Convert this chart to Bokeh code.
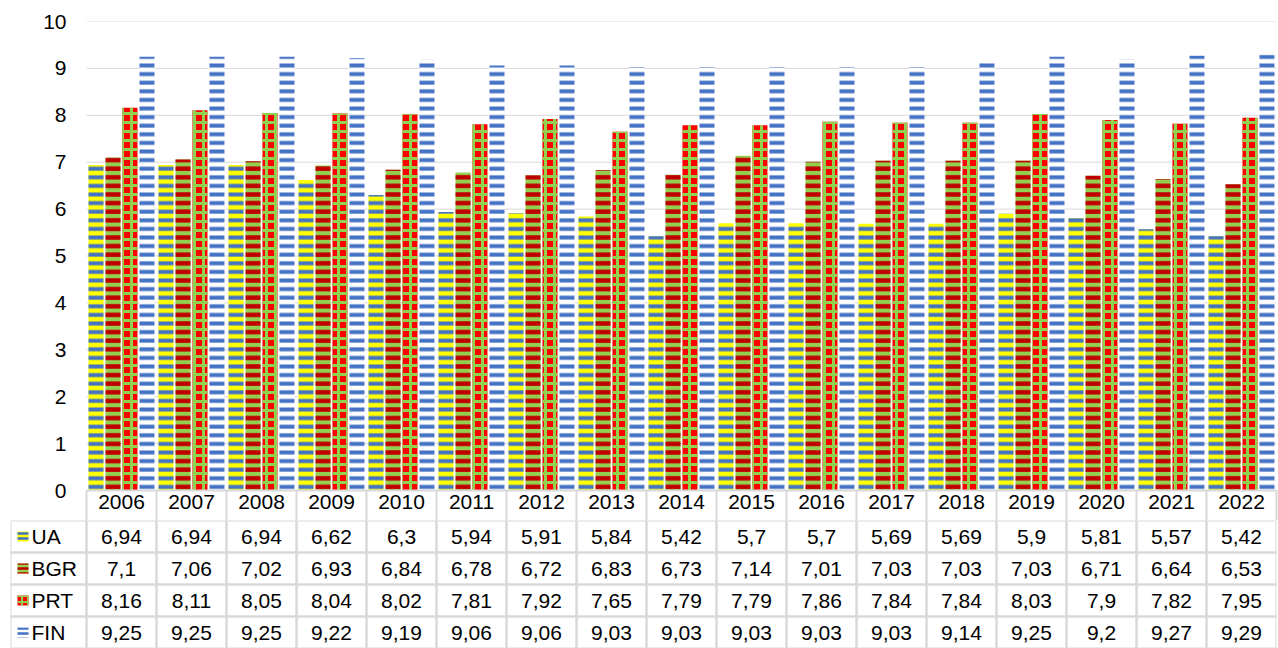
from bokeh.plotting import figure
from bokeh.layouts import column
from bokeh.models import Range1d, FixedTicker, ColumnDataSource, CustomJSTickFormatter
from bokeh.transform import dodge
from bokeh.embed import file_html
from bokeh.resources import INLINE
from bokeh.core.properties import value

# ---------------- data ----------------
years = [str(y) for y in range(2006, 2023)]
series_names = ["UA", "BGR", "PRT", "FIN"]
ua = [6.94, 6.94, 6.94, 6.62, 6.3, 5.94, 5.91, 5.84, 5.42, 5.7, 5.7, 5.69, 5.69, 5.9, 5.81, 5.57, 5.42]
bgr = [7.1, 7.06, 7.02, 6.93, 6.84, 6.78, 6.72, 6.83, 6.73, 7.14, 7.01, 7.03, 7.03, 7.03, 6.71, 6.64, 6.53]
prt = [8.16, 8.11, 8.05, 8.04, 8.02, 7.81, 7.92, 7.65, 7.79, 7.79, 7.86, 7.84, 7.84, 8.03, 7.9, 7.82, 7.95]
fin = [9.25, 9.25, 9.25, 9.22, 9.19, 9.06, 9.06, 9.03, 9.03, 9.03, 9.03, 9.03, 9.14, 9.25, 9.2, 9.27, 9.29]
y_ticks = list(range(0, 11))
series_values = {"UA": ua, "BGR": bgr, "PRT": prt, "FIN": fin}

# ---------------- styles ----------------
FONT = "Liberation Sans"
FS = "21px"
GRID = "#d9d9d9"
CW = 70            # px per year column
N = len(years)
LEG_W = 76         # px width of the legend column of the table
B_LEFT = 10
B_RIGHT = 2
ROW_H = 32
HEAD_H = 30
X0 = -LEG_W / CW
styles = {
    "UA": dict(fill_color="#ffff00", hatch_pattern="horizontal_line", hatch_color="#4472c4", hatch_scale=8.6, hatch_weight=4),
    "BGR": dict(fill_color="#92d050", hatch_pattern="horizontal_line", hatch_color="#c00000", hatch_scale=8.6, hatch_weight=4.5),
    "PRT": dict(fill_color="#ff0000", hatch_pattern="cross", hatch_color="#92d050", hatch_scale=9, hatch_weight=3),
    "FIN": dict(fill_color="#ffffff", hatch_pattern="horizontal_line", hatch_color="#4472c4", hatch_scale=8.6, hatch_weight=4),
}
key_styles = {
    "UA": dict(styles["UA"], hatch_scale=5, hatch_weight=2.5),
    "BGR": dict(styles["BGR"], hatch_scale=5, hatch_weight=2.5),
    "PRT": dict(styles["PRT"], hatch_scale=6, hatch_weight=2),
    "FIN": dict(styles["FIN"], hatch_scale=5, hatch_weight=2.5),
}
offsets = [-0.364, -0.121, 0.121, 0.364]
BAR_W = 0.214

# ---------------- chart ----------------
p = figure(frame_width=LEG_W + CW * N, frame_height=469,
           x_range=Range1d(X0, N), y_range=Range1d(0, 10),
           output_backend="svg", toolbar_location=None,
           min_border_left=B_LEFT, min_border_right=B_RIGHT,
           min_border_top=21, min_border_bottom=HEAD_H)
p.outline_line_color = None
p.background_fill_color = "white"

# horizontal gridlines only over the plotting columns
p.ygrid.visible = False
p.xgrid.visible = False
p.segment(x0=[0] * len(y_ticks), x1=[N] * len(y_ticks), y0=y_ticks, y1=y_ticks,
          line_color=GRID, line_width=1)

centers = [i + 0.5 for i in range(N)]
src = ColumnDataSource(dict(x=centers, **{s: series_values[s] for s in series_names}))
for s, off in zip(series_names, offsets):
    p.vbar(x=dodge("x", off), top=s, width=BAR_W, bottom=0, source=src,
           line_color=None, **styles[s])

# y axis (labels pulled into the blank area above the legend column)
p.yaxis.ticker = FixedTicker(ticks=y_ticks)
p.yaxis.axis_line_color = None
p.yaxis.major_tick_out = 0
p.yaxis.major_tick_in = 0
p.yaxis.minor_tick_out = 0
p.yaxis.minor_tick_in = 0
p.yaxis.major_label_standoff = -56
p.yaxis.major_label_text_font = FONT
p.yaxis.major_label_text_font_size = FS
p.yaxis.major_label_text_color = "black"

# x axis = header row of the data table
p.xaxis.bounds = (0, N)
p.xaxis.ticker = FixedTicker(ticks=centers, minor_ticks=list(range(N + 1)))
p.xaxis.formatter = CustomJSTickFormatter(args=dict(labels=years),
                                          code="return labels[Math.floor(tick)];")
p.xaxis.axis_line_color = GRID
p.xaxis.axis_line_width = 2
p.xaxis.major_tick_out = 0
p.xaxis.major_tick_in = 0
p.xaxis.minor_tick_out = HEAD_H
p.xaxis.minor_tick_in = 0
p.xaxis.minor_tick_line_color = GRID
p.xaxis.minor_tick_line_width = 2
p.xaxis.major_label_standoff = 4 - HEAD_H
p.xaxis.major_label_text_font = FONT
p.xaxis.major_label_text_font_size = FS
p.xaxis.major_label_text_color = "black"

# ---------------- data table ----------------
t = figure(frame_width=LEG_W + CW * N, frame_height=ROW_H * 4,
           x_range=Range1d(X0, N), y_range=Range1d(0, 4),
           output_backend="svg", toolbar_location=None,
           x_axis_location=None, y_axis_location=None,
           min_border_left=B_LEFT, min_border_right=B_RIGHT,
           min_border_top=0, min_border_bottom=0)
t.outline_line_color = None
t.grid.visible = False

left, right, top, bottom, tx, ty, txt = [], [], [], [], [], [], []
for r, s in enumerate(series_names):
    row_top = 4 - r
    left.append(X0); right.append(0); top.append(row_top); bottom.append(row_top - 1)
    for i, v in enumerate(series_values[s]):
        left.append(i); right.append(i + 1); top.append(row_top); bottom.append(row_top - 1)
        tx.append(i + 0.5); ty.append(row_top - 0.5); txt.append(str(v).replace(".", ","))
t.quad(left=left, right=right, top=top, bottom=bottom,
       fill_color=None, line_color=GRID, line_width=2)
t.text(x=tx, y=ty, text=txt, text_align="center", text_baseline="middle",
       text_font=value(FONT), text_font_size=FS, text_color="black")

key_x = X0 + 12.5 / CW
lab_x = X0 + 21 / CW
for r, s in enumerate(series_names):
    t.rect(x=[key_x], y=[4 - r - 0.5], width=11, height=10,
           width_units="screen", height_units="screen", line_color=None, **key_styles[s])
t.text(x=[lab_x] * 4, y=[4 - r - 0.5 for r in range(4)], text=series_names,
       text_align="left", text_baseline="middle",
       text_font=value(FONT), text_font_size=FS, text_color="black")

layout = column(p, t, spacing=0)
open("out.html", "w").write(file_html(layout, INLINE))
